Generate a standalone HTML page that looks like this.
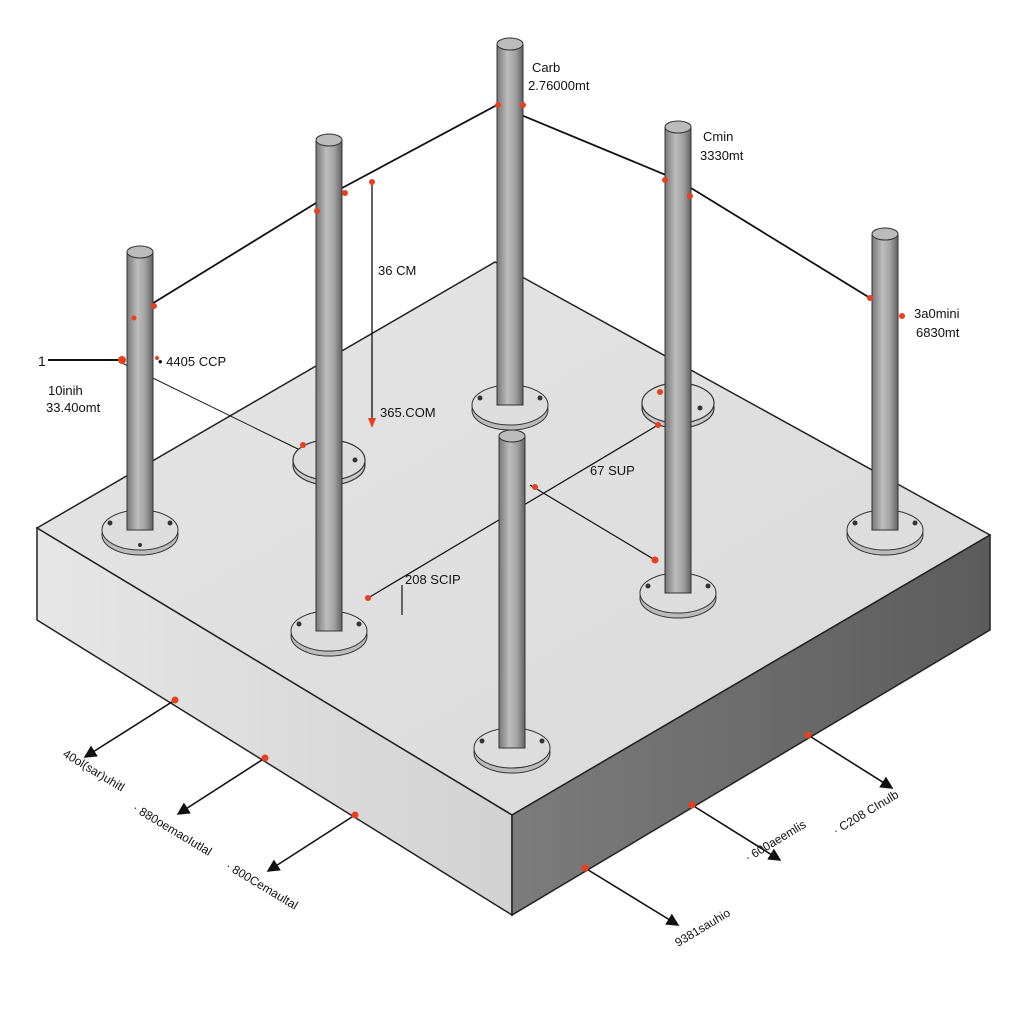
<!DOCTYPE html>
<html><head><meta charset="utf-8"><style>
html,body{margin:0;padding:0;background:#fff;width:1024px;height:1024px;overflow:hidden}
text{font-family:"Liberation Sans",sans-serif;fill:#111}
</style></head><body>
<svg width="1024" height="1024" viewBox="0 0 1024 1024" xmlns="http://www.w3.org/2000/svg">
<defs>
<linearGradient id="top" x1="0" y1="0" x2="1" y2="1">
<stop offset="0" stop-color="#e6e6e6"/><stop offset="1" stop-color="#d8d8d8"/></linearGradient>
<linearGradient id="right" x1="0" y1="0" x2="1" y2="0">
<stop offset="0" stop-color="#7c7c7c"/><stop offset="1" stop-color="#5c5c5c"/></linearGradient>
<linearGradient id="left" x1="0" y1="0" x2="1" y2="0">
<stop offset="0" stop-color="#e6e6e6"/><stop offset="1" stop-color="#d2d2d2"/></linearGradient>
<linearGradient id="post" x1="0" y1="0" x2="1" y2="0">
<stop offset="0" stop-color="#777"/><stop offset="0.4" stop-color="#bdbdbd"/><stop offset="0.7" stop-color="#a2a2a2"/><stop offset="1" stop-color="#626262"/></linearGradient>
<marker id="ar" markerWidth="8" markerHeight="8" refX="7" refY="4" orient="auto"><path d="M0,0 L8,4 L0,8 z" fill="#111"/></marker>
</defs>
<polygon points="37,528 495,262 990,535 512,815" fill="url(#top)" stroke="#222" stroke-width="1.5"/>
<polygon points="37,528 512,815 512,915 37,620" fill="url(#left)" stroke="#222" stroke-width="1.5"/>
<polygon points="512,815 990,535 990,630 512,915" fill="url(#right)" stroke="#222" stroke-width="1.5"/>

<polyline points="150,305 329,195 497,105 678,180 870,298" fill="none" stroke="#111" stroke-width="1.8"/>
<line x1="372" y1="182" x2="372" y2="425" stroke="#111" stroke-width="1.3"/>
<line x1="120" y1="362" x2="300" y2="450" stroke="#111" stroke-width="1"/>
<line x1="658" y1="425" x2="368" y2="598" stroke="#111" stroke-width="1.2"/>
<line x1="530" y1="485" x2="655" y2="560" stroke="#111" stroke-width="1.2"/>
<line x1="402" y1="585" x2="402" y2="615" stroke="#111" stroke-width="1.2"/>
<line x1="48" y1="360" x2="120" y2="360" stroke="#111" stroke-width="2"/>

<g fill="#ddd" stroke="#333" stroke-width="1.2">
<ellipse cx="329" cy="465" rx="36" ry="20" fill="#c8c8c8"/><ellipse cx="329" cy="460" rx="36" ry="20"/>
<ellipse cx="678" cy="408" rx="36" ry="20" fill="#c8c8c8"/><ellipse cx="678" cy="403" rx="36" ry="20"/>
</g>

<g>
<g><ellipse cx="140" cy="535" rx="38" ry="20" fill="#bbb" stroke="#333"/><ellipse cx="140" cy="530" rx="38" ry="20" fill="#ddd" stroke="#333"/>
<rect x="127" y="252" width="26" height="278" fill="url(#post)" stroke="#333"/><ellipse cx="140" cy="252" rx="13" ry="6" fill="#bbb" stroke="#333"/></g>
<g><ellipse cx="510" cy="410" rx="38" ry="20" fill="#bbb" stroke="#333"/><ellipse cx="510" cy="405" rx="38" ry="20" fill="#ddd" stroke="#333"/>
<rect x="497" y="44" width="26" height="361" fill="url(#post)" stroke="#333"/><ellipse cx="510" cy="44" rx="13" ry="6" fill="#bbb" stroke="#333"/></g>
<g><ellipse cx="885" cy="535" rx="38" ry="20" fill="#bbb" stroke="#333"/><ellipse cx="885" cy="530" rx="38" ry="20" fill="#ddd" stroke="#333"/>
<rect x="872" y="234" width="26" height="296" fill="url(#post)" stroke="#333"/><ellipse cx="885" cy="234" rx="13" ry="6" fill="#bbb" stroke="#333"/></g>
<g><ellipse cx="678" cy="598" rx="38" ry="20" fill="#bbb" stroke="#333"/><ellipse cx="678" cy="593" rx="38" ry="20" fill="#ddd" stroke="#333"/>
<rect x="665" y="127" width="26" height="466" fill="url(#post)" stroke="#333"/><ellipse cx="678" cy="127" rx="13" ry="6" fill="#bbb" stroke="#333"/></g>
<g><ellipse cx="329" cy="636" rx="38" ry="20" fill="#bbb" stroke="#333"/><ellipse cx="329" cy="631" rx="38" ry="20" fill="#ddd" stroke="#333"/>
<rect x="316" y="140" width="26" height="491" fill="url(#post)" stroke="#333"/><ellipse cx="329" cy="140" rx="13" ry="6" fill="#bbb" stroke="#333"/></g>
<g><ellipse cx="512" cy="753" rx="38" ry="20" fill="#bbb" stroke="#333"/><ellipse cx="512" cy="748" rx="38" ry="20" fill="#ddd" stroke="#333"/>
<rect x="499" y="436" width="26" height="312" fill="url(#post)" stroke="#333"/><ellipse cx="512" cy="436" rx="13" ry="6" fill="#bbb" stroke="#333"/></g>
</g>
<g fill="#333">
<circle cx="110" cy="523" r="2.5"/><circle cx="170" cy="523" r="2.5"/><circle cx="140" cy="545" r="2"/>
<circle cx="299" cy="624" r="2.5"/><circle cx="359" cy="624" r="2.5"/>
<circle cx="480" cy="398" r="2.5"/><circle cx="540" cy="398" r="2.5"/>
<circle cx="648" cy="586" r="2.5"/><circle cx="708" cy="586" r="2.5"/>
<circle cx="855" cy="523" r="2.5"/><circle cx="915" cy="523" r="2.5"/>
<circle cx="482" cy="741" r="2.5"/><circle cx="542" cy="741" r="2.5"/>
<circle cx="355" cy="460" r="2.5"/><circle cx="700" cy="408" r="2.5"/>
</g>

<g stroke="#111" stroke-width="1.6" marker-end="url(#ar)">
<line x1="175" y1="700" x2="85" y2="757"/>
<line x1="265" y1="758" x2="178" y2="814"/>
<line x1="355" y1="815" x2="268" y2="871"/>
<line x1="808" y1="735" x2="892" y2="788"/>
<line x1="692" y1="805" x2="780" y2="860"/>
<line x1="585" y1="868" x2="678" y2="925"/>
</g>
<g fill="#e8401c">
<circle cx="175" cy="700" r="3.5"/><circle cx="265" cy="758" r="3.5"/><circle cx="355" cy="815" r="3.5"/>
<circle cx="808" cy="735" r="3.5"/><circle cx="692" cy="805" r="3.5"/><circle cx="585" cy="868" r="3.5"/>
<circle cx="122" cy="360" r="4"/><circle cx="154" cy="306" r="3"/><circle cx="317" cy="211" r="3"/><circle cx="345" cy="193" r="3"/>
<circle cx="498" cy="105" r="3"/><circle cx="523" cy="105" r="3"/><circle cx="665" cy="180" r="3"/><circle cx="690" cy="196" r="3"/>
<circle cx="870" cy="298" r="3"/><circle cx="902" cy="316" r="3"/><circle cx="372" cy="182" r="3"/>
<circle cx="658" cy="425" r="3"/><circle cx="655" cy="560" r="3.5"/><circle cx="368" cy="598" r="3"/>
<circle cx="535" cy="487" r="3"/><circle cx="303" cy="445" r="3"/><circle cx="660" cy="392" r="3"/>
<circle cx="134" cy="318" r="2.5"/><circle cx="157" cy="358" r="2"/>
</g>
<path d="M368,418 L372,428 L376,418" fill="#e8401c"/>

<g font-size="13">
<text x="532" y="72">Carb</text><text x="528" y="90">2.76000mt</text>
<text x="703" y="141">Cmin</text><text x="700" y="160">3330mt</text>
<text x="914" y="318">3a0mini</text><text x="916" y="337">6830mt</text>
<text x="38" y="366" font-size="14">1</text>
<text x="48" y="395">10inih</text><text x="46" y="412">33.40omt</text>
<text x="158" y="366">• 4405 CCP</text>
<text x="378" y="275">36 CM</text>
<text x="380" y="417">365.COM</text>
<text x="590" y="475">67 SUP</text>
<text x="405" y="584">208 SCIP</text>
</g>
<g font-size="12">
<text transform="translate(62,756) rotate(31)">40ol(sar)uhitl</text>
<text transform="translate(132,810) rotate(31)">· 880oemaoIutlal</text>
<text transform="translate(225,868) rotate(31)">· 800Cemaultal</text>
<text transform="translate(836,835) rotate(-31)">· C208 CInulb</text>
<text transform="translate(748,862) rotate(-31)">· 600aeemlis</text>
<text transform="translate(678,947) rotate(-31)">9381sauhio</text>
</g>
</svg>
</body></html>
